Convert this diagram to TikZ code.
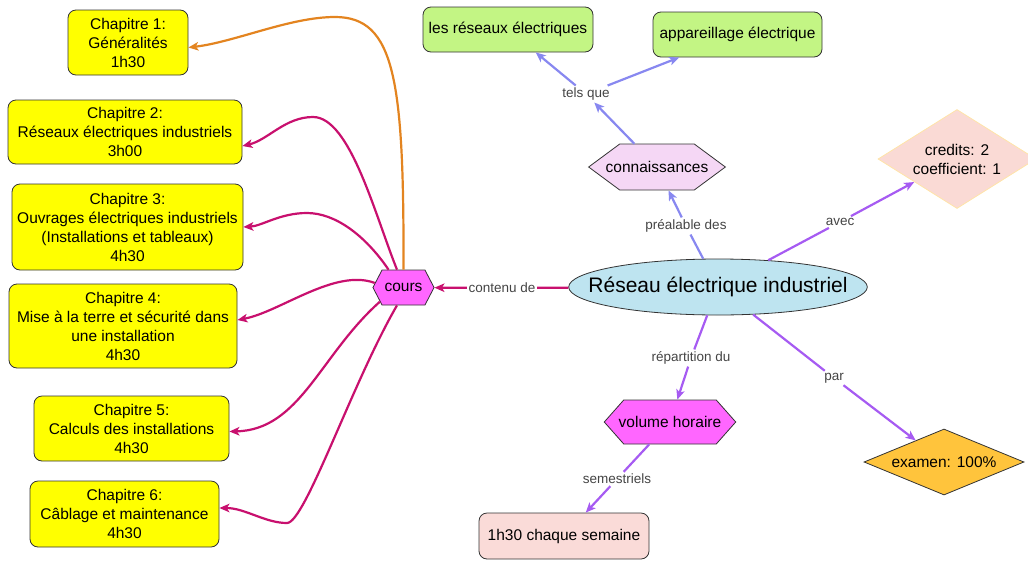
\documentclass[tikz,border=0pt]{standalone}
\usepackage{fontspec}
\setmainfont{Liberation Sans}
\usetikzlibrary{shapes.geometric,shapes.symbols,arrows.meta}
\definecolor{bordc}{HTML}{333333}
\definecolor{lblc}{HTML}{444444}
\definecolor{chapy}{HTML}{FFFF00}
\definecolor{greenc}{HTML}{C3F584}
\definecolor{connc}{HTML}{F5D7F5}
\definecolor{hexm}{HTML}{FF66FF}
\definecolor{ellc}{HTML}{BEE4F0}
\definecolor{pinkc}{HTML}{FADBD8}
\definecolor{credc}{HTML}{FADAD5}
\definecolor{credb}{HTML}{FFE4A8}
\definecolor{examc}{HTML}{FFC43C}
\definecolor{magc}{HTML}{C8106E}
\definecolor{orac}{HTML}{E38420}
\definecolor{peric}{HTML}{8888F0}
\definecolor{purc}{HTML}{A65BF2}
\begin{document}
\begin{tikzpicture}[x=1pt,y=-1pt,
  concept/.style={draw=bordc, line width=0.8pt, align=center, font=\fontsize{15.5}{19}\selectfont, text=black, inner sep=0pt},
  rbox/.style={concept, rectangle, rounded corners=8pt},
  hexa/.style={concept, signal, signal to=west and east},
  lbl/.style={font=\fontsize{13.5}{16}\selectfont, text=lblc, inner xsep=1.5pt, inner ysep=2pt},
  conn/.style={line width=2.2pt},
  arr/.style={-{Stealth[length=10pt,width=8.5pt,inset=2.5pt]}},
]
\useasboundingbox (0,0) rectangle (1028,560);

% chapters
\node[rbox, fill=chapy, minimum width=120pt, minimum height=65pt] (ch1) at (128,42.5) {Chapitre 1:\\Généralités\\1h30};
\node[rbox, fill=chapy, minimum width=234pt, minimum height=64pt] (ch2) at (125,132) {Chapitre 2:\\Réseaux électriques industriels\\3h00};
\node[rbox, fill=chapy, minimum width=231pt, minimum height=86pt] (ch3) at (127.5,227) {Chapitre 3:\\Ouvrages électriques industriels\\(Installations et tableaux)\\4h30};
\node[rbox, fill=chapy, minimum width=228pt, minimum height=84pt] (ch4) at (123,326) {Chapitre 4:\\Mise à la terre et sécurité dans\\une installation\\4h30};
\node[rbox, fill=chapy, minimum width=195pt, minimum height=65pt] (ch5) at (131.5,428.5) {Chapitre 5:\\Calculs des installations\\4h30};
\node[rbox, fill=chapy, minimum width=189pt, minimum height=66pt] (ch6) at (124.5,514) {Chapitre 6:\\Câblage et maintenance\\4h30};

% other concepts
\node[rbox, fill=greenc, minimum width=170pt, minimum height=45pt] (reseaux) at (508,29.5) {les réseaux électriques};
\node[rbox, fill=greenc, minimum width=169pt, minimum height=45pt] (appar) at (737.5,34.5) {appareillage électrique};
\node[hexa, fill=connc, signal pointer angle=73, inner xsep=-14pt, minimum height=46pt] (conn) at (657,167) {connaissances};
\node[hexa, fill=hexm, signal pointer angle=125, inner xsep=2.5pt, minimum height=35pt] (cours) at (403.5,287.5) {cours};
\node[concept, ellipse, fill=ellc, inner xsep=-24pt, inner ysep=0pt, minimum height=56pt, font=\fontsize{21}{24}\selectfont] (main) at (718,287) {Réseau électrique industriel};
\node[concept, diamond, aspect=1.596, fill=credc, draw=credb, minimum width=158pt, minimum height=99pt] (credits) at (957,159) {credits: 2\\coefficient: 1};
\node[hexa, fill=hexm, signal pointer angle=97, inner xsep=-5pt, minimum height=44pt] (volume) at (670,422) {volume horaire};
\node[concept, diamond, aspect=2.424, fill=examc, minimum width=160pt, minimum height=66pt] (examen) at (944,462) {examen: 100\%};
\node[rbox, fill=pinkc, minimum width=170pt, minimum height=46pt] (semaine) at (564,536) {1h30 chaque semaine};

% linking phrases
\node[lbl] (lcont) at (502,288) {contenu de};
\node[lbl] (lpre) at (686,226) {préalable des};
\node[lbl] (ltels) at (586,94) {tels que};
\node[lbl] (lavec) at (840,222) {avec};
\node[lbl] (lrep) at (691,358) {répartition du};
\node[lbl] (lpar) at (834,378) {par};
\node[lbl] (lsem) at (617,479) {semestriels};

% connectors
\draw[conn, magc] (main) -- (lcont);
\draw[conn, magc, arr] (lcont) -- (cours);
\draw[conn, peric] (main) -- (lpre);
\draw[conn, peric, arr] (lpre) -- (conn);
\draw[conn, peric, arr] (conn) -- (ltels);
\draw[conn, peric, arr] (ltels) -- (reseaux);
\draw[conn, peric, arr] (ltels) -- (appar);
\draw[conn, purc] (main) -- (lavec);
\draw[conn, purc, arr] (lavec) -- (credits);
\draw[conn, purc] (main) -- (lrep);
\draw[conn, purc, arr] (lrep) -- (volume);
\draw[conn, purc] (main) -- (lpar);
\draw[conn, purc, arr] (lpar) -- (examen);
\draw[conn, purc] (volume) -- (lsem);
\draw[conn, purc, arr] (lsem) -- (semaine);

\draw[conn, orac, arr] (cours.north) .. controls (404,80) and (395,17) .. (335,17) .. controls (290,17) and (235,42) .. ([yshift=-5pt]ch1.east);
\draw[conn, magc, arr] (cours.110) .. controls (375,215) and (350,117) .. (313,117) .. controls (285,117) and (268,140) .. ([yshift=-14pt]ch2.east);
\draw[conn, magc, arr] (cours.130) .. controls (365,235) and (335,213) .. (307,213) .. controls (280,213) and (262,226) .. (ch3.east);
\draw[conn, magc, arr] (cours.171) .. controls (335,268) and (280,312) .. ([yshift=6pt]ch4.east);
\draw[conn, magc, arr] (cours.211) .. controls (320,355) and (300,430) .. ([yshift=-3pt]ch5.east);
\draw[conn, magc, arr] (cours.250) .. controls (352,383) and (305,523) .. (287,523) .. controls (265,523) and (245,508) .. ([yshift=6pt]ch6.east);
\end{tikzpicture}
\end{document}
